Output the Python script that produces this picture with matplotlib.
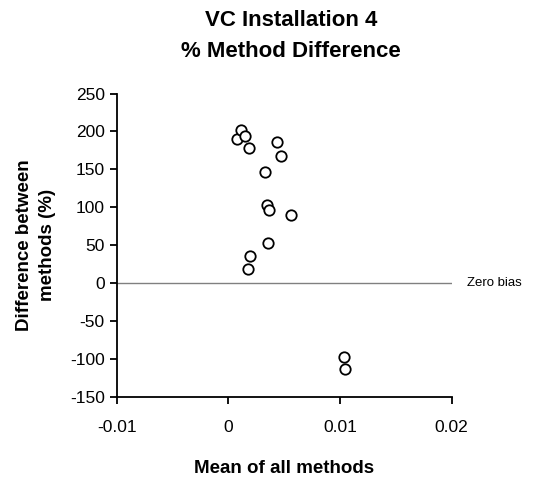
import matplotlib.pyplot as plt

plt.rcParams['font.family'] = ['Liberation Sans', 'DejaVu Sans']
plt.rcParams['axes.unicode_minus'] = False

# data
mean_all = [0.0008, 0.00116, 0.0015, 0.0019, 0.0044, 0.0047, 0.0033, 0.00345,
            0.00365, 0.0056, 0.0036, 0.00196, 0.0018, 0.01036, 0.0105]
diff_pct = [190, 201.7, 193.8, 177.6, 185.9, 167, 146.7, 102.8,
            96.6, 89.6, 53, 35, 18.7, -97.4, -113]
x_ticks = [-0.01, 0, 0.01, 0.02]
x_tick_labels = ['-0.01', '0', '0.01', '0.02']
y_ticks = [-150, -100, -50, 0, 50, 100, 150, 200, 250]

fig = plt.figure(figsize=(5.35, 4.82), dpi=100)
ax = fig.add_axes([0.218, 0.177, 0.626, 0.629])

ax.plot([x_ticks[0], x_ticks[-1]], [0, 0], color='#808080', lw=1.0, zorder=1)
ax.text(0.0214, 0, 'Zero bias', fontsize=9.5, va='center', ha='left')

ax.plot(mean_all, diff_pct, 'o', mfc='white', mec='black', ms=7.5, mew=1.3,
        zorder=3, clip_on=False)

ax.set_xlim(-0.01, 0.02)
ax.set_ylim(-150, 250)
ax.set_xticks(x_ticks)
ax.set_xticklabels(x_tick_labels)
ax.set_yticks(y_ticks)
ax.tick_params(labelsize=12.5, width=1.3, length=5, direction='out')
ax.tick_params(axis='x', pad=12)

for s in ['top', 'right']:
    ax.spines[s].set_visible(False)
for s in ['left', 'bottom']:
    ax.spines[s].set_linewidth(1.3)

ax.set_title('VC Installation 4\n% Method Difference', fontsize=16,
             fontweight='bold', pad=26, linespacing=1.65, x=0.52)
ax.set_xlabel('Mean of all methods', fontsize=13.5, fontweight='bold', labelpad=18)
ax.set_ylabel('Difference between\nmethods (%)', fontsize=13.5, fontweight='bold',
              labelpad=10, linespacing=1.45)

fig.savefig('out.png', dpi=100)
